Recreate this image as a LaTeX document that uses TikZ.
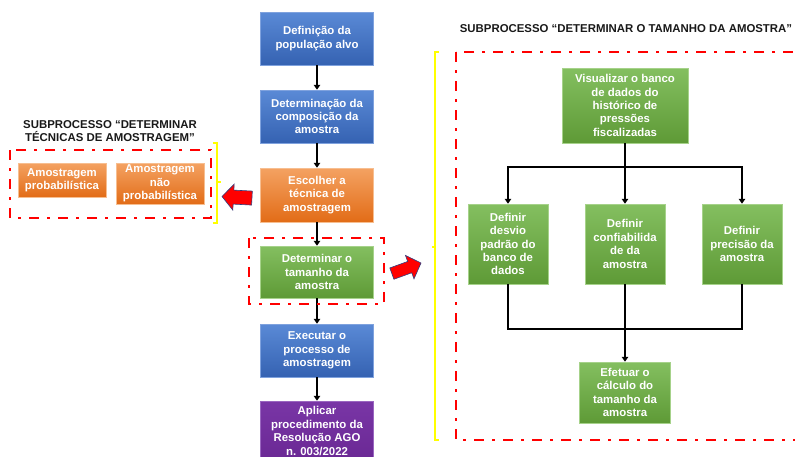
\documentclass[tikz,border=0pt]{standalone}
\usepackage{fontspec}
\setmainfont{Liberation Sans}
\usetikzlibrary{arrows.meta}
\definecolor{bluetop}{HTML}{5A8AD6}
\definecolor{bluebot}{HTML}{3562B2}
\definecolor{blueedge}{HTML}{7FA2DE}
\definecolor{greentop}{HTML}{84BF60}
\definecolor{greenbot}{HTML}{5E9A36}
\definecolor{greenedge}{HTML}{A6D28A}
\definecolor{orangetop}{HTML}{F4A262}
\definecolor{orangebot}{HTML}{E26C17}
\definecolor{orangeedge}{HTML}{F7BE90}
\definecolor{purptop}{HTML}{7936A6}
\definecolor{purpbot}{HTML}{6A2894}
\definecolor{purpedge}{HTML}{9A66C0}
\definecolor{arrowedge}{HTML}{2E3F80}
\definecolor{brightyellow}{HTML}{FFFF00}
\definecolor{dashred}{HTML}{FF0000}
\tikzset{
  box/.style={rectangle, text=white, font=\bfseries\fontsize{11.4}{13.4}\selectfont, align=center, inner sep=1pt, line width=0.5pt},
  bluebox/.style={box, top color=bluetop, bottom color=bluebot, draw=blueedge},
  greenbox/.style={box, top color=greentop, bottom color=greenbot, draw=greenedge},
  orangebox/.style={box, top color=orangetop, bottom color=orangebot, draw=orangeedge},
  purplebox/.style={box, top color=purptop, bottom color=purpbot, draw=purpedge},
  flow/.style={line width=1.8pt, -{Triangle[length=5pt,width=6.5pt]}},
  link/.style={line width=1.8pt},
  reddash/.style={draw=dashred, line width=2.6pt, dash pattern=on 10pt off 8pt on 3pt off 8pt},
  yel/.style={draw=brightyellow, line width=1.8pt},
  blockarrow/.style={fill=dashred, draw=arrowedge, line width=0.6pt, line join=miter},
  titletext/.style={font=\bfseries\fontsize{11.4}{13}\selectfont, align=center, text=black!90}
}
\begin{document}
\begin{tikzpicture}[x=1pt,y=-1pt]
\useasboundingbox (0,0) rectangle (795,456);
\clip (0,0) rectangle (795,456);

% main column
\node[bluebox, minimum width=113pt, minimum height=53pt] (n1) at (317,38.5) {Definição da\\população alvo};
\node[bluebox, minimum width=113pt, minimum height=53pt] (n2) at (317,116.5) {Determinação da\\composição da\\amostra};
\node[orangebox, minimum width=113pt, minimum height=54pt] (n3) at (317,195) {Escolher a\\técnica de\\amostragem};
\node[greenbox, minimum width=113pt, minimum height=52pt] (n4) at (317,272) {Determinar o\\tamanho da\\amostra};
\node[bluebox, minimum width=113pt, minimum height=53pt] (n5) at (317,350.5) {Executar o\\processo de\\amostragem};
\node[purplebox, minimum width=113pt, minimum height=60pt] (n6) at (317,431) {Aplicar\\procedimento da\\Resolução AGO\\n. 003/2022};

\draw[flow] (n1) -- (n2);
\draw[flow] (n2) -- (n3);
\draw[flow] (n3) -- (n4);
\draw[flow] (n4) -- (n5);
\draw[flow] (n5) -- (n6);

% red dash-dot frames
\draw[reddash] (249,238) rectangle (384,304);
\draw[reddash] (10,150) rectangle (211,218);
\draw[reddash] (456,52) rectangle (802,440);

% left subprocess
\node[titletext] (lt) at (110,131.5) {SUBPROCESSO “DETERMINAR\\TÉCNICAS DE AMOSTRAGEM”};
\node[orangebox, minimum width=88pt, minimum height=34pt] (a1) at (62,180) {Amostragem\\probabilística};
\node[orangebox, minimum width=88pt, minimum height=41pt] (a2) at (160,183.5) {Amostragem\\não\\probabilística};

% yellow brackets
\draw[yel] (213,143) -- (217,143) -- (217,223) -- (213,223);
\draw[yel] (217,182) -- (220.5,182);
\draw[yel] (439,52) -- (435,52) -- (435,440) -- (439,440);
\draw[yel] (435,247) -- (431.5,247);

% block arrows
\filldraw[blockarrow, shift={(222,196.5)}, rotate=-3] (0,0) -- (11.5,-13) -- (11.5,-7) -- (30,-7) -- (30,7) -- (11.5,7) -- (11.5,13) -- cycle;
\filldraw[blockarrow, shift={(421,263)}, rotate=20] (0,0) -- (-12,-12.5) -- (-12,-6) -- (-31,-6) -- (-31,6) -- (-12,6) -- (-12,12.5) -- cycle;

% right subprocess
\node[titletext] (rt) at (626,29) {SUBPROCESSO “DETERMINAR O TAMANHO DA AMOSTRA”};
\node[greenbox, minimum width=126pt, minimum height=75pt] (vis) at (625,105.5) {Visualizar o banco\\de dados do\\histórico de\\pressões\\fiscalizadas};
\node[greenbox, minimum width=80pt, minimum height=80pt] (dL) at (508,244) {Definir\\desvio\\padrão do\\banco de\\dados};
\node[greenbox, minimum width=80pt, minimum height=80pt] (dM) at (625,244) {Definir\\confiabilida\\de da\\amostra};
\node[greenbox, minimum width=80pt, minimum height=80pt] (dR) at (742,244) {Definir\\precisão da\\amostra};
\node[greenbox, minimum width=91pt, minimum height=61pt] (ef) at (625,392.5) {Efetuar o\\cálculo do\\tamanho da\\amostra};

\coordinate (split) at (625,167);
\coordinate (merge) at (625,329);
\draw[link] (vis) -- (split);
\draw[link, line cap=rect] (split -| dL) -- (split -| dR);
\draw[flow] (split -| dL) -- (dL);
\draw[flow] (split) -- (dM);
\draw[flow] (split -| dR) -- (dR);
\draw[link, line join=miter] (dL) -- (dL |- merge) -- (dR |- merge) -- (dR);
\draw[flow] (dM) -- (ef);
\end{tikzpicture}
\end{document}
